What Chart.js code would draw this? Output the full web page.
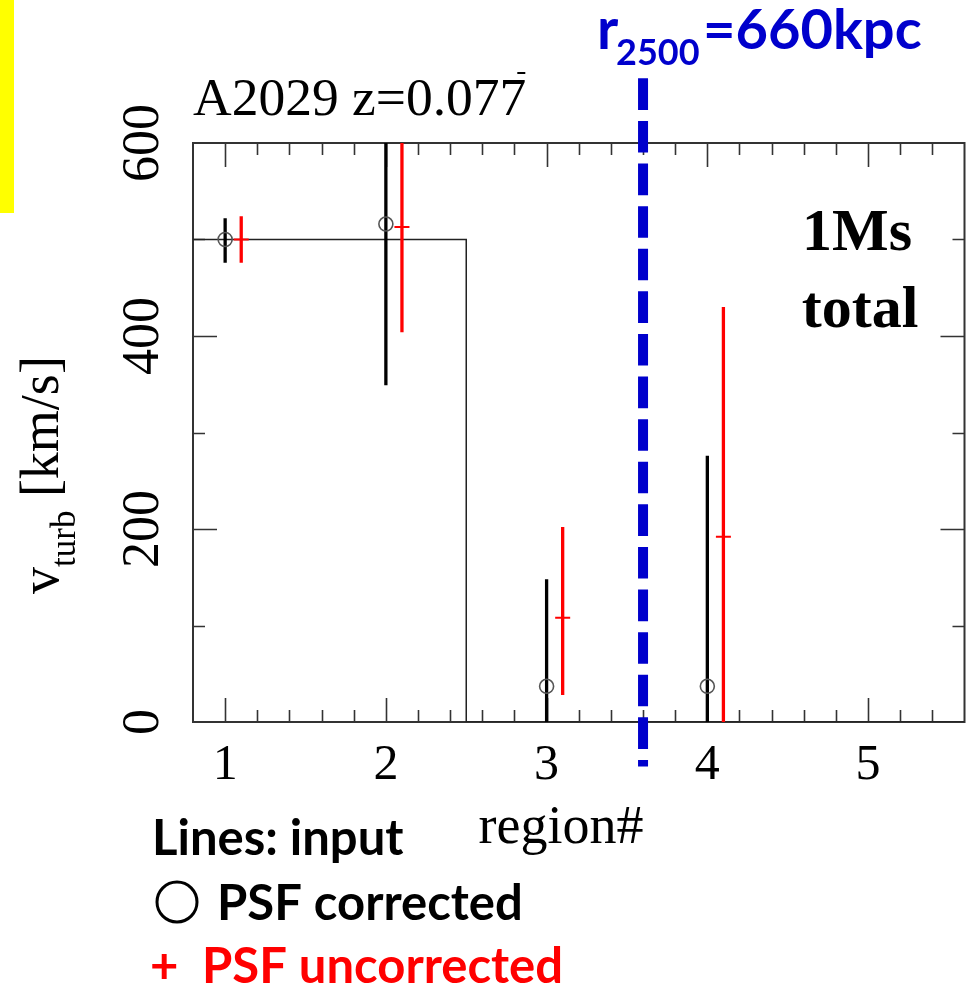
<!DOCTYPE html>
<html>
<head>
<meta charset="utf-8">
<script src="https://cdn.jsdelivr.net/npm/chart.js@4.4.1/dist/chart.umd.min.js"></script>
<style>
  html, body { margin: 0; padding: 0; background: #fff; }
  #wrap { width: 974px; height: 989px; position: relative; }
</style>
</head>
<body>
<div id="wrap"><canvas id="chart"></canvas></div>
<script>
// Datos
const regions = [1, 2, 3, 4];
const xTickLabels = ['1', '2', '3', '4', '5'];
const yTickLabels = ['0', '200', '400', '600'];

// input (línea escalonada)
const inputX = [0.8, 2.5, 2.5, 5.6];
const inputY = [500, 500, 0, 0];

// PSF corrected (círculos negros)
const corrX = [1, 2, 3, 4];
const corrVal = [500, 516, 37, 37];
const corrLo = [476, 349, 0, 0];
const corrHi = [522, 700, 148, 276];

// PSF uncorrected (cruces rojas)
const uncorrX = [1.1, 2.1, 3.1, 4.1];
const uncorrVal = [500, 513, 108, 192];
const uncorrLo = [476, 404, 28, 0];
const uncorrHi = [524, 700, 202, 430];

// r2500 = 660 kpc
const r2500X = 3.6;
const r2500Span = [667, -46];

const SERIF = '"Liberation Serif", "Times New Roman", serif';
const SANS = 'Lato, "Open Sans", sans-serif';
const BLUE = '#0000cc';

function segments(xs, lo, hi) {
    const out = [];
    xs.forEach((x, i) => {
        out.push({ x: x, y: lo[i] });
        out.push({ x: x, y: hi[i] });
        out.push({ x: x, y: null });
    });
    return out;
}

function pts(xs, ys) {
    return xs.map((x, i) => ({ x: x, y: ys[i] }));
}

// Marco, ticks interiores y textos
const decor = {
    id: 'decor',
    beforeDatasetsDraw(chart) {
        const { ctx, chartArea: a, scales: { x, y } } = chart;
        ctx.save();
        ctx.strokeStyle = '#333';
        ctx.lineWidth = 1.6;
        ctx.beginPath();
        for (let k = 1; k < 24; k++) {
            const v = 0.8 + 0.2 * k;
            const major = Math.abs(v - Math.round(v)) < 1e-6;
            const len = major ? 24 : 12;
            const px = Math.round(x.getPixelForValue(v)) + 0.5;
            ctx.moveTo(px, a.bottom); ctx.lineTo(px, a.bottom - len);
            ctx.moveTo(px, a.top); ctx.lineTo(px, a.top + len);
        }
        for (let v = 100; v < 600; v += 100) {
            const len = v % 200 === 0 ? 24 : 12;
            const py = Math.round(y.getPixelForValue(v)) + 0.5;
            ctx.moveTo(a.left, py); ctx.lineTo(a.left + len, py);
            ctx.moveTo(a.right, py); ctx.lineTo(a.right - len, py);
        }
        ctx.stroke();
        ctx.lineWidth = 2;
        ctx.strokeRect(a.left, a.top, a.right - a.left, a.bottom - a.top);
        ctx.restore();
    },
    afterDraw(chart) {
        const { ctx, scales: { y } } = chart;
        ctx.save();

        // barra amarilla
        ctx.fillStyle = '#ffff00';
        ctx.fillRect(0, 0, 14, 213);

        ctx.fillStyle = '#000';
        ctx.textBaseline = 'alphabetic';

        // título
        ctx.font = '53.5px ' + SERIF;
        ctx.textAlign = 'left';
        const title = 'A2029 z=0.077';
        ctx.fillText(title, 193, 115);
        const tw = ctx.measureText(title).width;
        ctx.fillRect(193 + tw - 9, 72, 8, 2);

        // etiquetas eje y (rotadas)
        ctx.textAlign = 'center';
        ctx.font = '52px ' + SERIF;
        yTickLabels.forEach(t => {
            ctx.save();
            ctx.translate(158, y.getPixelForValue(Number(t)));
            ctx.rotate(-Math.PI / 2);
            ctx.fillText(t, 0, 0);
            ctx.restore();
        });

        // título eje y: v_turb [km/s]
        ctx.save();
        ctx.translate(58, 594);
        ctx.rotate(-Math.PI / 2);
        ctx.textAlign = 'left';
        let cx = 0;
        ctx.font = '54px ' + SERIF;
        ctx.fillText('v', cx, 0);
        cx += ctx.measureText('v').width;
        ctx.font = '35px ' + SERIF;
        ctx.fillText('turb', cx, 17);
        cx += ctx.measureText('turb').width;
        ctx.font = '54px ' + SERIF;
        ctx.fillText(' [km/s]', cx, 0);
        ctx.restore();

        // título eje x
        ctx.font = '54px ' + SERIF;
        ctx.textAlign = 'center';
        ctx.fillText('region#', 561, 843);

        // 1Ms total
        ctx.font = 'bold 60px ' + SERIF;
        ctx.fillText('1Ms', 857, 250);
        ctx.fillText('total', 860, 327);

        // r2500=660kpc
        ctx.fillStyle = BLUE;
        ctx.textAlign = 'left';
        ctx.font = 'bold 57px ' + SANS;
        ctx.fillText('r', 597, 49);
        ctx.font = 'bold 36px ' + SANS;
        ctx.fillText('2500', 616, 65);
        ctx.font = 'bold 56px ' + SANS;
        ctx.fillText('=660kpc', 703, 49);

        // leyenda
        ctx.fillStyle = '#000';
        ctx.font = 'bold 49px ' + SANS;
        ctx.fillText('Lines: input', 152, 855);
        ctx.fillText('PSF corrected', 217, 920);
        ctx.lineWidth = 3;
        ctx.strokeStyle = '#000';
        ctx.beginPath();
        ctx.arc(177, 902, 20, 0, Math.PI * 2);
        ctx.stroke();
        ctx.fillStyle = '#ff0000';
        ctx.fillText('+', 150, 983);
        ctx.fillText('PSF uncorrected', 202, 983);

        ctx.restore();
    }
};

const ctx = document.getElementById('chart').getContext('2d');
new Chart(ctx, {
    type: 'scatter',
    data: {
        datasets: [
            {
                label: 'r2500',
                data: [{ x: r2500X, y: r2500Span[0] }, { x: r2500X, y: r2500Span[1] }],
                showLine: true,
                borderColor: BLUE,
                borderWidth: 10,
                borderDash: [31.6, 11],
                pointRadius: 0,
                clip: false,
                order: 0
            },
            {
                label: 'PSF corrected',
                data: pts(corrX, corrVal),
                pointStyle: 'circle',
                pointRadius: 7,
                pointBorderWidth: 1.6,
                pointBorderColor: '#555',
                pointBackgroundColor: 'rgba(0,0,0,0)',
                order: 1
            },
            {
                label: 'PSF uncorrected',
                data: pts(uncorrX, uncorrVal),
                pointStyle: 'line',
                pointRadius: 7.5,
                pointBorderWidth: 2,
                pointBorderColor: '#ff0000',
                order: 2
            },
            {
                label: 'corrected err',
                data: segments(corrX, corrLo, corrHi),
                showLine: true,
                spanGaps: false,
                borderColor: '#000',
                borderWidth: 3.3,
                pointRadius: 0,
                order: 3
            },
            {
                label: 'uncorrected err',
                data: segments(uncorrX, uncorrLo, uncorrHi),
                showLine: true,
                spanGaps: false,
                borderColor: '#ff0000',
                borderWidth: 3.3,
                pointRadius: 0,
                order: 4
            },
            {
                label: 'input',
                data: pts(inputX, inputY),
                showLine: true,
                borderColor: '#222',
                borderWidth: 1.5,
                pointRadius: 0,
                order: 5
            }
        ]
    },
    options: {
        responsive: true,
        maintainAspectRatio: false,
        animation: false,
        layout: { padding: { left: 193, right: 4, top: 143, bottom: 187 } },
        scales: {
            x: {
                type: 'linear',
                min: 0.8,
                max: 5.6,
                grid: { display: false },
                border: { display: false },
                ticks: {
                    stepSize: 0.2,
                    autoSkip: false,
                    maxRotation: 0,
                    padding: 3,
                    color: '#000',
                    font: { family: SERIF, size: 50, lineHeight: 1.3 },
                    callback: function(v) {
                        const r = Math.round(v);
                        return Math.abs(v - r) < 1e-6 && r >= 1 && r <= 5 ? xTickLabels[r - 1] : '';
                    }
                },
                afterFit: function(s) {
                    s.height = 80;
                    s.paddingLeft = 0;
                    s.paddingRight = 0;
                }
            },
            y: {
                type: 'linear',
                min: 0,
                max: 600,
                display: false
            }
        },
        plugins: {
            legend: { display: false },
            tooltip: { enabled: false }
        }
    },
    plugins: [decor]
});
</script>
</body>
</html>
